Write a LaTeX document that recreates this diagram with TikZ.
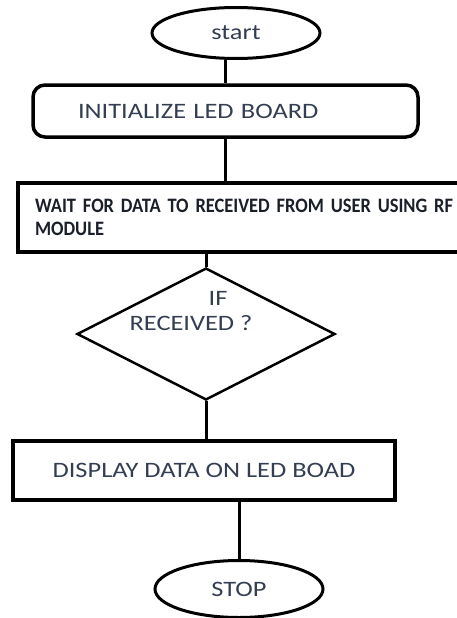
\documentclass[tikz,border=0pt]{standalone}
\usepackage{fontspec}
\setmainfont[FakeStretch=1.2]{Carlito}
\newfontfamily\waitfont[FakeStretch=0.9, WordSpace=0.5]{Carlito}
\usetikzlibrary{shapes.geometric}
\definecolor{txtcol}{RGB}{52,62,82}
\tikzstyle{term} = [draw, ellipse, line width=3pt, inner sep=0pt, text=txtcol, font=\fontsize{22}{26}\selectfont]
\tikzstyle{procbox} = [draw, rectangle, line width=3.5pt, inner sep=0pt, text=txtcol, font=\fontsize{22}{26}\selectfont]
\tikzstyle{decide} = [draw, diamond, line width=2.5pt, inner sep=0pt]
\tikzstyle{link} = [draw, line width=3pt]

\begin{document}
\begin{tikzpicture}[x=1pt, y=-1pt]
\useasboundingbox (0,0) rectangle (456,618);
\node[term, minimum width=168pt, minimum height=51pt] (start) at (236,33) {start};
\node[procbox, rounded corners=12pt, minimum width=385pt, minimum height=52pt,
      text width=295pt, align=left, inner xsep=45pt] (init) at (225.5,111) {INITIALIZE LED BOARD};
\node[procbox, minimum width=452pt, minimum height=69pt, text width=430pt, align=left,
      inner xsep=17pt, text=txtcol!50!black, font=\waitfont\bfseries\fontsize{20.5}{23}\selectfont] (wait) at (250,217.5)
      {WAIT FOR DATA TO RECEIVED FROM USER USING RF\\MODULE};
\node[decide, minimum width=258pt, minimum height=132pt] (dec) at (206,334) {};
\node[text=txtcol, align=center, font=\fontsize{22}{25}\selectfont] (decq) at (191,311) {\hspace*{54pt}IF\\RECEIVED ?};
\node[procbox, minimum width=382pt, minimum height=59pt] (disp) at (204,470.5) {DISPLAY DATA ON LED BOAD};
\node[term, minimum width=168pt, minimum height=57pt] (stop) at (239,589) {STOP};
\draw[link] (start.south -| init.north) -- (init.north);
\draw[link] (init.south) -- (init.south |- wait.north);
\draw[link] (dec.north |- wait.south) -- (dec.north);
\draw[link] (dec.south) -- (dec.south |- disp.north);
\draw[link] (stop.north |- disp.south) -- (stop.north);
\end{tikzpicture}
\end{document}
